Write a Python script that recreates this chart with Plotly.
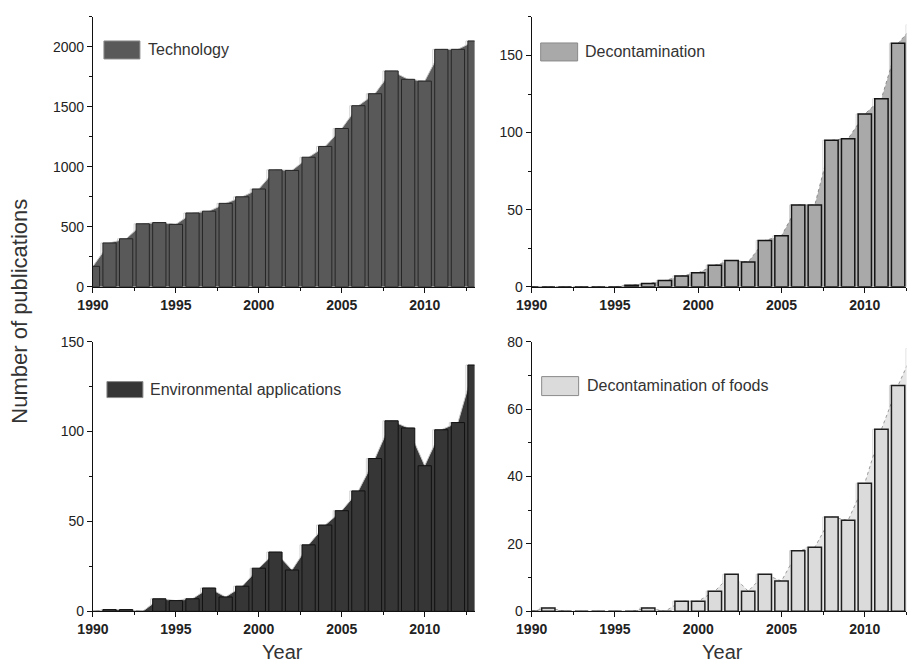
import plotly.graph_objects as go

# ---------------- data ----------------
years = list(range(1990, 2014))
technology = [170, 365, 400, 525, 535, 520, 615, 630, 695, 750, 815, 975, 970,
              1080, 1170, 1320, 1510, 1610, 1800, 1730, 1715, 1980, 1980, 2050]
decontamination = [0, 0, 0, 0, 0, 0, 1, 2, 4, 7, 9, 14, 17, 16, 30, 33, 53, 53,
                   95, 96, 112, 122, 158, 170]
environmental = [0, 1, 1, 0, 7, 6, 7, 13, 8, 14, 24, 33, 23, 37, 48, 56, 67, 85,
                 106, 102, 81, 101, 105, 137]
foods = [0, 1, 0, 0, 0, 0, 0, 1, 0, 3, 3, 6, 11, 6, 11, 9, 18, 19, 28, 27, 38,
         54, 67, 78]
series_names = ["Technology", "Decontamination", "Environmental applications",
                "Decontamination of foods"]
x_title = "Year"
y_title = "Number of publications"

W, H = 907, 666
# map target-picture pixels to layout fractions (compensates page offset/scale)
def fx(p):
    return ((p - 16) / 0.983) / W
def fy(p):
    return 1 - ((p - 8) / 0.977) / H

FONT = "Arial, Liberation Sans, sans-serif"

xr_left = [1990, 2013.0]
xr_right = [1990, 2012.5]

panels = [
    dict(vals=technology, name=series_names[0], ax=1, ov=5, xr=xr_left,
         xdom=[fx(93), fx(474.8)], ydom=[fy(287), fy(17)], yr=[0, 2250], dt=500, mdt=250,
         bar="#595959", barline="#262626", barw=1, area="#5b5b5b", aline="#c8c8c8", adash="solid",
         leg=(104, 41, 140, 59, 146, 50)),
    dict(vals=decontamination, name=series_names[1], ax=2, ov=6, xr=xr_right,
         xdom=[fx(532), min(1.0, fx(907))], ydom=[fy(287), fy(17)], yr=[0, 175], dt=50, mdt=25,
         bar="#a9a9a9", barline="#141414", barw=1.5, area="#b3b3b3", aline="#8c8c8c", adash="dot",
         leg=(541, 43, 578, 61, 583, 52)),
    dict(vals=environmental, name=series_names[2], ax=3, ov=7, xr=xr_left,
         xdom=[fx(93), fx(474.8)], ydom=[fy(612), fy(342)], yr=[0, 150], dt=50, mdt=25,
         bar="#363636", barline="#111111", barw=1, area="#393939", aline="#c8c8c8", adash="solid",
         leg=(107, 382, 143, 398, 148, 390)),
    dict(vals=foods, name=series_names[3], ax=4, ov=8, xr=xr_right,
         xdom=[fx(532), min(1.0, fx(907))], ydom=[fy(612), fy(342)], yr=[0, 80], dt=20, mdt=10,
         bar="#dbdbdb", barline="#1e1e1e", barw=1.5, area="#e6e6e6", aline="#9a9a9a", adash="dot",
         leg=(542, 377, 579, 396, 585, 386)),
]

fig = go.Figure()
layout = {}
shapes = []
annotations = []

for p in panels:
    a, o = p["ax"], p["ov"]
    xa = "x" if a == 1 else f"x{a}"
    ya = "y" if a == 1 else f"y{a}"
    xo, yo = f"x{o}", f"y{o}"
    # shadow outline bars (behind area)
    fig.add_trace(go.Bar(x=years, y=p["vals"], width=0.8, offset=-0.52,
                         marker=dict(color="rgba(0,0,0,0)", line=dict(color="#d4d4d4", width=1)),
                         xaxis=xa, yaxis=ya, showlegend=False, hoverinfo="skip"))
    # area
    fig.add_trace(go.Scatter(x=years, y=p["vals"], mode="lines", fill="tozeroy",
                             fillcolor=p["area"], line=dict(color=p["aline"], width=1, dash=p["adash"]),
                             xaxis=xa, yaxis=ya, showlegend=False))
    # main bars on overlay axes (drawn above area)
    fig.add_trace(go.Bar(x=years, y=p["vals"], width=0.8, offset=-0.4, name=p["name"],
                         marker=dict(color=p["bar"], line=dict(color=p["barline"], width=p["barw"])),
                         xaxis=xo, yaxis=yo, showlegend=False))

    xkey = "xaxis" if a == 1 else f"xaxis{a}"
    ykey = "yaxis" if a == 1 else f"yaxis{a}"
    layout[xkey] = dict(domain=p["xdom"], anchor=ya, range=p["xr"], showgrid=False, zeroline=False,
                        showline=True, linecolor="#111", linewidth=1,
                        ticks="outside", ticklen=5, tickcolor="#111", tick0=1990, dtick=5,
                        minor=dict(dtick=2.5, tick0=1990, ticks="outside", ticklen=3, tickcolor="#111"),
                        tickfont=dict(family=FONT, size=14, color="#222", weight="bold"))
    layout[ykey] = dict(domain=p["ydom"], anchor=xa, range=p["yr"], showgrid=False, zeroline=False,
                        showline=True, linecolor="#111", linewidth=1,
                        ticks="outside", ticklen=5, tickcolor="#111", tick0=0, dtick=p["dt"],
                        minor=dict(dtick=p["mdt"], tick0=0, ticks="outside", ticklen=3, tickcolor="#111"),
                        tickfont=dict(family=FONT, size=14, color="#222"))
    layout[f"xaxis{o}"] = dict(overlaying=xa, anchor=yo, range=p["xr"], visible=False)
    layout[f"yaxis{o}"] = dict(overlaying=ya, anchor=xo, range=p["yr"], visible=False)

    x0, y0, x1, y1, tx, ty = p["leg"]
    shapes.append(dict(type="rect", xref="paper", yref="paper",
                       x0=fx(x0), x1=fx(x1), y0=fy(y1), y1=fy(y0),
                       fillcolor=p["bar"], line=dict(color="#8a8a8a", width=1)))
    annotations.append(dict(text=p["name"], xref="paper", yref="paper", x=fx(tx), y=fy(ty),
                            xanchor="left", yanchor="middle", showarrow=False,
                            font=dict(family=FONT, size=16, color="#333")))

annotations.append(dict(text=x_title, xref="paper", yref="paper", x=fx(283), y=fy(653),
                        xanchor="center", yanchor="middle", showarrow=False,
                        font=dict(family=FONT, size=20, color="#333")))
annotations.append(dict(text=x_title, xref="paper", yref="paper", x=fx(723), y=fy(653),
                        xanchor="center", yanchor="middle", showarrow=False,
                        font=dict(family=FONT, size=20, color="#333")))
annotations.append(dict(text=y_title, xref="paper", yref="paper", x=fx(20), y=fy(311),
                        xanchor="center", yanchor="middle", showarrow=False, textangle=-90,
                        font=dict(family=FONT, size=22, color="#333")))

fig.update_layout(width=W, height=H, margin=dict(l=0, r=0, t=0, b=0),
                  paper_bgcolor="white", plot_bgcolor="white", barmode="overlay",
                  showlegend=False, shapes=shapes, annotations=annotations, **layout)

fig.write_html("out.html")
